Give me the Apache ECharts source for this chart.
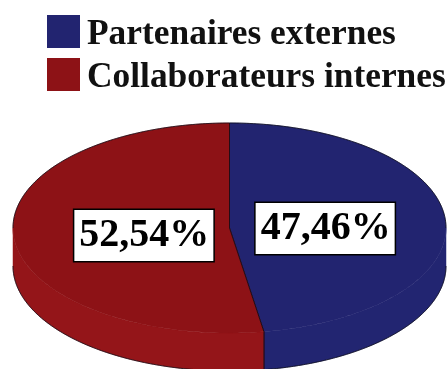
<!DOCTYPE html>
<html>
<head>
<meta charset="utf-8">
<style>
  html, body { margin: 0; padding: 0; background: #ffffff; }
  #chart { width: 448px; height: 369px; }
</style>
<script src="https://cdn.jsdelivr.net/npm/echarts@6/dist/echarts.min.js"></script>
</head>
<body>
<div id="chart"></div>
<script>
// Répartition des contributeurs (en %)
const categories = ['Partenaires externes', 'Collaborateurs internes'];
const shares = [47.46, 52.54];

const topColors = ['#222470', '#8d1216'];
const sideColors = ['#222571', '#941519'];
const edgeColor = 'rgba(10,10,20,0.75)';
const FONT = '"Liberation Serif", "Times New Roman", serif';
const DEPTH = 38; // thickness of the disc, px

const total = shares.reduce((s, v) => s + v, 0);
const starts = shares.map((v, i) => shares.slice(0, i).reduce((s, x) => s + x, 0));

function fmt(v) {
  return v.toFixed(2).replace('.', ',') + '%';
}

function renderSlice(params, api) {
  const start = api.value(0);
  const val = api.value(1);
  const idx = params.seriesIndex;
  const deg = Math.PI / 180;
  // angles in degrees, clockwise from 12 o'clock
  const a0 = 90 - start / total * 360;
  const a1 = a0 - val / total * 360;

  const pt = a => api.coord([Math.cos(a * deg), Math.sin(a * deg)]);
  const arc = (from, to, steps) => {
    const pts = [];
    for (let i = 0; i <= steps; i++) pts.push(pt(from + (to - from) * i / steps));
    return pts;
  };
  const down = p => [p[0], p[1] + DEPTH];

  const center = api.coord([0, 0]);
  const children = [];

  // outer wall on the front half of the disc
  const hi = Math.min(a0, 0);
  const lo = Math.max(a1, -180);
  if (hi > lo) {
    const upper = arc(hi, lo, 120);
    const lower = upper.slice().reverse().map(down);
    children.push({
      type: 'polygon',
      shape: { points: upper.concat(lower) },
      style: { fill: sideColors[idx], stroke: sideColors[idx], lineWidth: 0.5 }
    });
    // bottom rim
    children.push({
      type: 'polyline',
      shape: { points: upper.map(down) },
      style: { stroke: edgeColor, lineWidth: 1, fill: null }
    });
    // vertical seam where two slices meet on the wall
    [a0, a1].forEach(a => {
      if (a < 0 && a > -180) {
        const p = pt(a);
        children.push({
          type: 'line',
          shape: { x1: p[0], y1: p[1], x2: p[0], y2: p[1] + DEPTH },
          style: { stroke: edgeColor, lineWidth: 1 }
        });
      }
    });
  }

  // top face
  children.push({
    type: 'polygon',
    shape: { points: [center].concat(arc(a0, a1, 160)) },
    style: { fill: topColors[idx], stroke: topColors[idx], lineWidth: 0.5 }
  });

  // back rim of the top face
  const bHi = Math.min(a0, 180);
  const bLo = Math.max(a1, 0);
  if (bHi > bLo) {
    children.push({
      type: 'polyline',
      shape: { points: arc(bHi, bLo, 100) },
      style: { stroke: edgeColor, lineWidth: 1, fill: null }
    });
  }
  const b2Hi = Math.min(a0, -180);
  const b2Lo = Math.max(a1, -360);
  if (b2Hi > b2Lo) {
    children.push({
      type: 'polyline',
      shape: { points: arc(b2Hi, b2Lo, 100) },
      style: { stroke: edgeColor, lineWidth: 1, fill: null }
    });
  }
  // the two radial edges of the slice
  children.push({
    type: 'polyline',
    shape: { points: [pt(a0), center, pt(a1)] },
    style: { stroke: edgeColor, lineWidth: 1, fill: null }
  });

  const mid = ((a0 + a1) / 2) * deg;
  const lp = api.coord([0.42 * Math.cos(mid), 0.42 * Math.sin(mid)]);
  children.push({
    type: 'text',
    x: lp[0] + 5,
    y: lp[1] + 4,
    z2: 10,
    style: {
      text: fmt(val),
      fill: '#000000',
      fontFamily: FONT,
      fontWeight: 'bold',
      fontSize: 40,
      lineHeight: 43,
      align: 'center',
      verticalAlign: 'middle',
      backgroundColor: '#ffffff',
      borderColor: '#000000',
      borderWidth: 1.5,
      padding: [4, 4, 4, 5]
    }
  });
  return { type: 'group', children: children };
}

const chart = echarts.init(document.getElementById('chart'), null, { renderer: 'canvas' });
chart.setOption({
  animation: false,
  backgroundColor: '#ffffff',
  grid: { left: 13, right: 2, top: 123, bottom: 36 },
  xAxis: { type: 'value', min: -1, max: 1, show: false },
  yAxis: { type: 'value', min: -1, max: 1, show: false },
  legend: {
    orient: 'vertical',
    left: 47,
    top: 11,
    padding: 0,
    itemWidth: 33,
    itemHeight: 33,
    itemGap: 2,
    icon: 'rect',
    data: categories,
    formatter: '{t|{name}}',
    textStyle: {
      rich: {
        t: {
          fontFamily: FONT,
          fontWeight: 'bold',
          fontSize: 35.4,
          lineHeight: 33,
          color: '#111111',
          padding: [6, 0, 0, 2]
        }
      }
    }
  },
  series: categories.map((name, i) => ({
    type: 'custom',
    name: name,
    coordinateSystem: 'cartesian2d',
    itemStyle: { color: topColors[i] },
    renderItem: renderSlice,
    encode: { x: 0, y: 1 },
    data: [[starts[i], shares[i]]],
    silent: true
  }))
});
</script>
</body>
</html>
